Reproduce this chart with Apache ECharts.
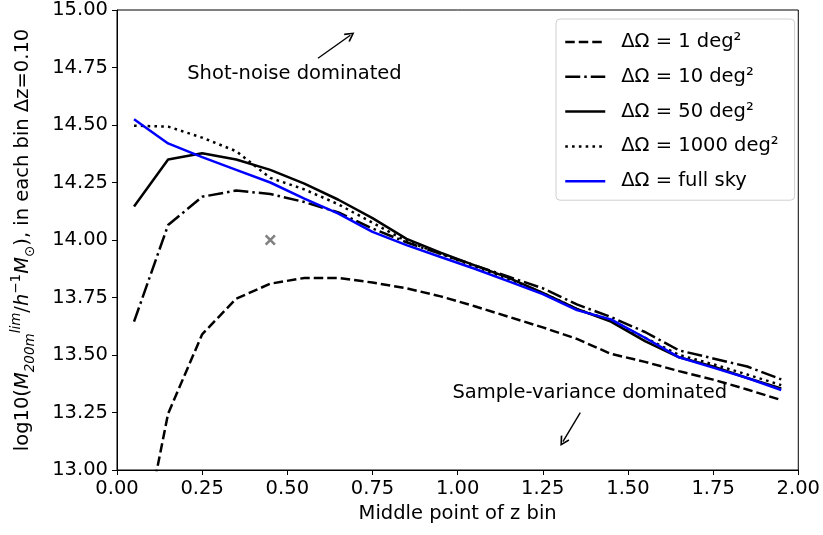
<!DOCTYPE html>
<html>
<head>
<meta charset="utf-8">
<script src="https://cdn.jsdelivr.net/npm/echarts@6/dist/echarts.min.js"></script>
<style>
html,body{margin:0;padding:0;background:#fff;}
#chart{width:823px;height:535px;}
</style>
</head>
<body>
<div id="chart"></div>
<script>
// ---- data ----
const zMid = [0.05,0.15,0.25,0.35,0.45,0.55,0.65,0.75,0.85,0.95,1.05,1.15,1.25,1.35,1.45,1.55,1.65,1.75,1.85,1.95];
const omega1    = [12.50,13.245,13.59,13.745,13.81,13.835,13.835,13.815,13.79,13.755,13.712,13.666,13.62,13.57,13.505,13.47,13.43,13.393,13.35,13.304];
const omega10   = [13.645,14.065,14.188,14.215,14.20,14.165,14.12,14.05,13.99,13.94,13.89,13.84,13.79,13.72,13.665,13.60,13.52,13.485,13.45,13.394];
const omega50   = [14.146,14.35,14.377,14.35,14.305,14.245,14.175,14.095,14.005,13.945,13.89,13.835,13.77,13.70,13.645,13.56,13.49,13.45,13.40,13.355];
const omega1000 = [14.497,14.493,14.445,14.386,14.27,14.22,14.155,14.075,13.995,13.94,13.885,13.83,13.77,13.70,13.65,13.575,13.50,13.46,13.415,13.369];
const omegaFull = [14.525,14.42,14.36,14.305,14.25,14.18,14.115,14.035,13.978,13.926,13.875,13.82,13.765,13.695,13.655,13.575,13.49,13.445,13.40,13.348];
const seriesNames = ['ΔΩ = 1 deg²','ΔΩ = 10 deg²','ΔΩ = 50 deg²','ΔΩ = 1000 deg²','ΔΩ = full sky'];
const crossPoint = [0.45, 14.0];
const xTicks = {min:0, max:2, step:0.25};
const yTicks = {min:13, max:15, step:0.25};
const annoTexts = ['Shot-noise dominated','Sample-variance dominated'];
const annoPos = [[0.521,14.723],[1.388,13.334]];
const arrowFrom = [[0.59,14.79],[1.36,13.249]];
const arrowTo = [[0.685,14.89],[1.309,13.123]];

// ---- chart ----
const FONT = 'DejaVu Sans';
const FS = 19.5;
const chart = echarts.init(document.getElementById('chart'), null, {renderer:'canvas'});
const pair = arr => zMid.map((z,i)=>[z,arr[i]]);
const styles = [
  {color:'#000', type:[9.5,4]},
  {color:'#000', type:[15,4,2.5,4]},
  {color:'#000', type:'solid'},
  {color:'#000', type:[2.6,4.2]},
  {color:'#0000ff', type:'solid'}
];
const allData = [omega1,omega10,omega50,omega1000,omegaFull];
const lineSeries = allData.map((d,i)=>({
  name: seriesNames[i],
  type:'line',
  data: pair(d),
  symbol:'none',
  showSymbol:false,
  clip:true,
  lineStyle:{color:styles[i].color, width:2.5, type:styles[i].type},
  itemStyle:{color:styles[i].color},
  animation:false,
  z: 2+i
}));
const arrowHead = 'path://M5,0 L10,9 L8.6,10 L5,3.2 L1.4,10 L0,9 Z';
const option = {
  backgroundColor:'#fff',
  animation:false,
  textStyle:{fontFamily:FONT},
  grid:{left:117, right:21, top:9, bottom:65, show:true, borderColor:'#000', borderWidth:1, containLabel:false},
  xAxis:{
    type:'value', min:xTicks.min, max:xTicks.max, interval:xTicks.step,
    name:'Middle point of z bin', nameLocation:'middle', nameGap:33,
    nameTextStyle:{fontSize:FS, color:'#000', fontFamily:FONT},
    axisLine:{show:true, lineStyle:{color:'#000', width:1}},
    axisTick:{show:true, length:5, lineStyle:{color:'#000'}},
    axisLabel:{fontSize:FS, color:'#000', fontFamily:FONT, margin:9, formatter:v=>v.toFixed(2)},
    splitLine:{show:false}
  },
  yAxis:{
    type:'value', min:yTicks.min, max:yTicks.max, interval:yTicks.step,
    name:'log10({i|M}{subi|200m}{supi|lim}/{i|h}{sup|−1}{i|M}{sub|⊙}), in each bin Δz=0.10',
    nameLocation:'middle', nameGap:80, nameRotate:90,
    nameTextStyle:{fontSize:FS, color:'#000', fontFamily:FONT, lineHeight:28,
      rich:{
        i:{fontSize:FS, fontStyle:'italic', color:'#000', fontFamily:FONT, lineHeight:28},
        sub:{fontSize:13.5, color:'#000', fontFamily:FONT, verticalAlign:'bottom', lineHeight:28},
        sup:{fontSize:13.5, color:'#000', fontFamily:FONT, verticalAlign:'top', lineHeight:28},
        subi:{fontSize:13.5, fontStyle:'italic', color:'#000', fontFamily:FONT, verticalAlign:'bottom', lineHeight:28},
        supi:{fontSize:13.5, fontStyle:'italic', color:'#000', fontFamily:FONT, verticalAlign:'top', lineHeight:28}
      }},
    axisLine:{show:true, lineStyle:{color:'#000', width:1}},
    axisTick:{show:true, length:5, lineStyle:{color:'#000'}},
    axisLabel:{fontSize:FS, color:'#000', fontFamily:FONT, margin:9, formatter:v=>v.toFixed(2)},
    splitLine:{show:false}
  },
  legend:{
    data:seriesNames,
    orient:'vertical',
    left:556, top:19,
    padding:[12,16,8,8],
    itemWidth:40, itemHeight:14, itemGap:12.8,
    itemStyle:{opacity:0},
    lineStyle:{width:2.5},
    backgroundColor:'#fff', borderColor:'#d0d0d0', borderWidth:1, borderRadius:4,
    textStyle:{fontSize:FS, color:'#000', fontFamily:FONT, lineHeight:22, padding:[0,0,0,11]},
    selectedMode:false
  },
  series:[
    ...lineSeries,
    {
      name:'cross', type:'scatter', data:[crossPoint],
      symbol:'path://M0,1.6 L1.6,0 L5,3.4 L8.4,0 L10,1.6 L6.6,5 L10,8.4 L8.4,10 L5,6.6 L1.6,10 L0,8.4 L3.4,5 Z',
      symbolSize:11, itemStyle:{color:'#808080', opacity:1}, z:10, silent:true
    },
    {
      name:'annotations', type:'scatter',
      data: annoPos.map((p,i)=>({value:p, name:annoTexts[i]})),
      symbolSize:0, silent:true, z:10,
      itemStyle:{opacity:1, color:'#000'},
      label:{show:true, position:'inside', formatter:p=>p.name, fontSize:FS, color:'#000', opacity:1, fontFamily:FONT},
      markLine:{
        silent:true, animation:false,
        symbol:['none', arrowHead], symbolSize:[10,10],
        lineStyle:{color:'#000', width:1.4, type:'solid', opacity:1},
        itemStyle:{color:'#000', opacity:1},
        label:{show:false},
        data: arrowFrom.map((f,i)=>[{coord:f},{coord:arrowTo[i]}])
      }
    }
  ]
};
chart.setOption(option);
</script>
</body>
</html>
